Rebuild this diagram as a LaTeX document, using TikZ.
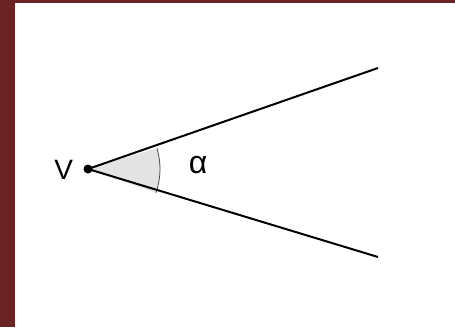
\documentclass[tikz,border=0pt]{standalone}
\usepackage{fontspec}
\setmainfont{Liberation Sans}
\usepackage{xcolor}
\usetikzlibrary{positioning,calc}
\definecolor{frame}{HTML}{6A2424}

\begin{document}
\begin{tikzpicture}[x=1pt,y=-1pt,leg/.style={line width=2pt},lbl/.style={inner sep=0pt,font=\fontsize{28}{32}\selectfont}]
 \useasboundingbox (0,0) rectangle (455,327);
 \fill[white] (0,0) rectangle (455,327);
 \fill[frame] (0,0) rectangle (15,327); \fill[frame] (0,0) rectangle (455,3);
 \coordinate (v) at (88,169);
 \coordinate (p) at (378,68);
 \coordinate (q) at (378,257);
 \fill[black!11] (v) -- ($(v)+(19.3:72)$) arc[start angle=19.3,end angle=-16.8,radius=72] -- cycle;
 \draw[black!70,line width=0.8pt] ($(v)+(19.3:72)$) arc[start angle=19.3,end angle=-16.8,radius=72];
 \draw[leg] (v)--(p); \draw[leg] (v)--(q);
 \node[circle,fill,inner sep=0pt,minimum size=9pt] (dot) at (v) {};
 \node[lbl,left=10pt of dot,yshift=-1pt] (vname) {V};
 \node[lbl,font=\fontsize{32}{36}\selectfont] (alpha) at (198,165) {α};
\end{tikzpicture}
\end{document}
